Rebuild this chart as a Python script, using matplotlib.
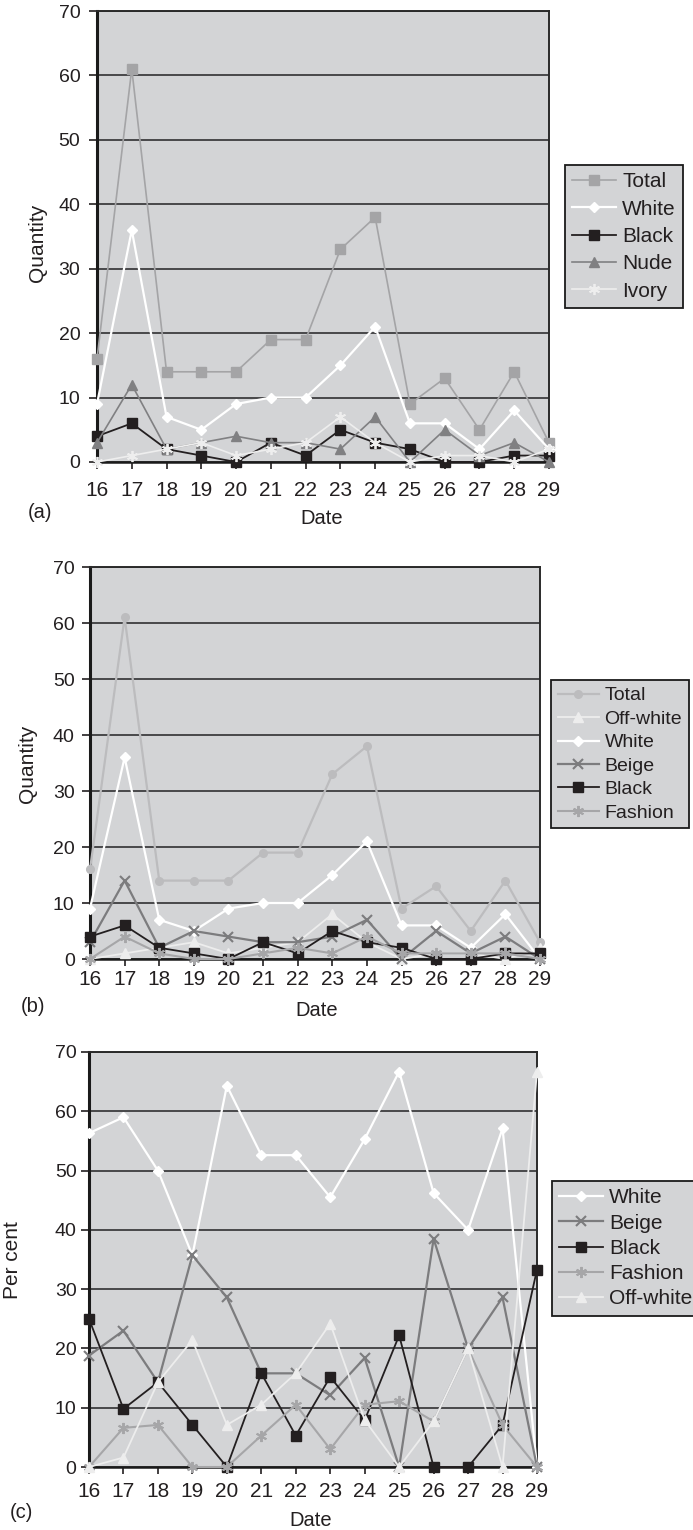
import matplotlib
matplotlib.use('Agg')
import matplotlib.pyplot as plt

# fonts and sizes
matplotlib.rcParams['font.family'] = ['Liberation Sans', 'DejaVu Sans']
matplotlib.rcParams['font.size'] = 14

W, H = 693, 1530

dates = list(range(16, 30))
y_ticks = [0, 10, 20, 30, 40, 50, 60, 70]

# (a) quantity sold per day, by colour
a_total = [16, 61, 14, 14, 14, 19, 19, 33, 38, 9, 13, 5, 14, 3]
a_white = [9, 36, 7, 5, 9, 10, 10, 15, 21, 6, 6, 2, 8, 2]
a_black = [4, 6, 2, 1, 0, 3, 1, 5, 3, 2, 0, 0, 1, 1]
a_nude = [3, 12, 2, 3, 4, 3, 3, 2, 7, 0, 5, 1, 3, 0]
a_ivory = [0, 1, 2, 3, 1, 2, 3, 7, 3, 0, 1, 1, 0, 2]

# (b) quantity per day, regrouped colours
b_total = [16, 61, 14, 14, 14, 19, 19, 33, 38, 9, 13, 5, 14, 3]
b_offwhite = [0, 1, 2, 3, 1, 2, 3, 8, 3, 0, 1, 1, 0, 2]
b_white = [9, 36, 7, 5, 9, 10, 10, 15, 21, 6, 6, 2, 8, 0]
b_beige = [3, 14, 2, 5, 4, 3, 3, 4, 7, 0, 5, 1, 4, 0]
b_black = [4, 6, 2, 1, 0, 3, 1, 5, 3, 2, 0, 0, 1, 1]
b_fashion = [0, 4, 1, 0, 0, 1, 2, 1, 4, 1, 1, 1, 1, 0]

# (c) share of the day's total, per cent
c_white = [56.3, 59.0, 50.0, 35.7, 64.3, 52.6, 52.6, 45.5, 55.3, 66.7, 46.2, 40.0, 57.1, 0.0]
c_beige = [18.8, 23.0, 14.3, 35.7, 28.6, 15.8, 15.8, 12.1, 18.4, 0.0, 38.5, 20.0, 28.6, 0.0]
c_black = [25.0, 9.8, 14.3, 7.1, 0.0, 15.8, 5.3, 15.2, 7.9, 22.2, 0.0, 0.0, 7.1, 33.3]
c_fashion = [0.0, 6.6, 7.1, 0.0, 0.0, 5.3, 10.5, 3.0, 10.5, 11.1, 7.7, 20.0, 7.1, 0.0]
c_offwhite = [0.0, 1.6, 14.3, 21.4, 7.1, 10.5, 15.8, 24.2, 7.9, 0.0, 7.7, 20.0, 0.0, 66.7]

BG = '#d3d4d6'
ASTER = (6, 2, 0)

STYLES = {
    'total_sq': dict(color='#a4a4a6', marker='s', ms=6.5, mec='#a4a4a6', lw=1.2),
    'total_o': dict(color='#bcbcbe', marker='o', ms=5.5, mec='#bcbcbe', lw=1.6),
    'white': dict(color='white', marker='D', ms=5, mec='white', lw=1.6),
    'black': dict(color='#231f20', marker='s', ms=7, mec='#231f20', lw=1.3),
    'nude': dict(color='#808082', marker='^', ms=7, mec='#808082', lw=1.2),
    'ivory': dict(color='#eeeeee', marker=ASTER, ms=8, mec='#eeeeee', mew=1.3, lw=1.2),
    'offwhite': dict(color='#ededed', marker='^', ms=7, mec='#ededed', lw=1.3),
    'beige': dict(color='#7c7c7e', marker='x', ms=7, mec='#7c7c7e', mew=1.5, lw=1.6),
    'fashion': dict(color='#a6a6a8', marker=ASTER, ms=8, mec='#a6a6a8', mew=1.4, lw=1.5),
}


def fx(px):
    return px / W


def fy(py):
    return 1 - py / H


def draw_panel(fig, box, series, ylabel, ylab_xy, tag_xy, tag, date_xy,
               leg_xy, leg_size, leg_space, xpad, ypad):
    left, top, right, bottom = box
    ax = fig.add_axes([fx(left), fy(bottom), fx(right - left), (bottom - top) / H])
    ax.set_facecolor(BG)
    for label, vals, st in series:
        ax.plot(dates, vals, label=label, clip_on=False, zorder=3, **STYLES[st])

    ax.set_xlim(16, 29)
    ax.set_ylim(0, 70)
    ax.set_xticks(dates)
    ax.set_yticks(y_ticks)
    ax.yaxis.grid(True, color='#48484a', lw=1.4)
    ax.set_axisbelow(True)
    ax.tick_params(axis='x', direction='out', length=5, width=1.2, pad=xpad,
                   labelsize=15, colors='#231f20')
    ax.tick_params(axis='y', direction='out', length=6, width=1.2, pad=ypad,
                   labelsize=14, colors='#231f20')
    ax.spines['left'].set_linewidth(2.2)
    ax.spines['left'].set_color('#1a1a1a')
    ax.spines['bottom'].set_linewidth(1.8)
    ax.spines['bottom'].set_color('#1a1a1a')
    for s in ['top', 'right']:
        ax.spines[s].set_linewidth(1.4)
        ax.spines[s].set_color('#2a2a2a')

    fig.text(fx(ylab_xy[0]), fy(ylab_xy[1]), ylabel, rotation=90,
             ha='center', va='center', fontsize=15, color='#231f20')
    fig.text(fx(tag_xy[0]), fy(tag_xy[1]), tag, ha='center', va='center',
             fontsize=14.5, color='#231f20')
    fig.text(fx(date_xy[0]), fy(date_xy[1]), 'Date', ha='center', va='center',
             fontsize=14.5, color='#231f20')

    leg = ax.legend(loc='upper left', bbox_to_anchor=(fx(leg_xy[0]), fy(leg_xy[1])),
                    bbox_transform=fig.transFigure, fontsize=leg_size,
                    frameon=True, fancybox=False, framealpha=1, facecolor=BG,
                    edgecolor='#1a1a1a', borderpad=0.35, labelspacing=leg_space,
                    handlelength=2.1, handletextpad=0.3, borderaxespad=0,
                    numpoints=1)
    leg.get_frame().set_linewidth(1.3)
    for t in leg.get_texts():
        t.set_color('#231f20')
    return ax


def main():
    fig = plt.figure(figsize=(W / 100, H / 100), dpi=100)

    draw_panel(fig, (97, 11, 549, 462),
               [('Total', a_total, 'total_sq'),
                ('White', a_white, 'white'),
                ('Black', a_black, 'black'),
                ('Nude', a_nude, 'nude'),
                ('Ivory', a_ivory, 'ivory')],
               'Quantity', (37, 243), (40, 513), '(a)', (322, 518),
               (565, 165), 15, 0.4, 9, 6)

    draw_panel(fig, (90, 567, 540, 959),
               [('Total', b_total, 'total_o'),
                ('Off-white', b_offwhite, 'offwhite'),
                ('White', b_white, 'white'),
                ('Beige', b_beige, 'beige'),
                ('Black', b_black, 'black'),
                ('Fashion', b_fashion, 'fashion')],
               'Quantity', (28, 764), (33, 1007), '(b)', (317, 1011),
               (551, 680), 14, 0.3, 3, 5)

    draw_panel(fig, (89, 1052, 537, 1467),
               [('White', c_white, 'white'),
                ('Beige', c_beige, 'beige'),
                ('Black', c_black, 'black'),
                ('Fashion', c_fashion, 'fashion'),
                ('Off-white', c_offwhite, 'offwhite')],
               'Per cent', (13, 1260), (21, 1513), '(c)', (311, 1520),
               (552, 1181), 15, 0.3, 6, 3)

    fig.savefig('out.png', dpi=100)


if __name__ == '__main__':
    main()
